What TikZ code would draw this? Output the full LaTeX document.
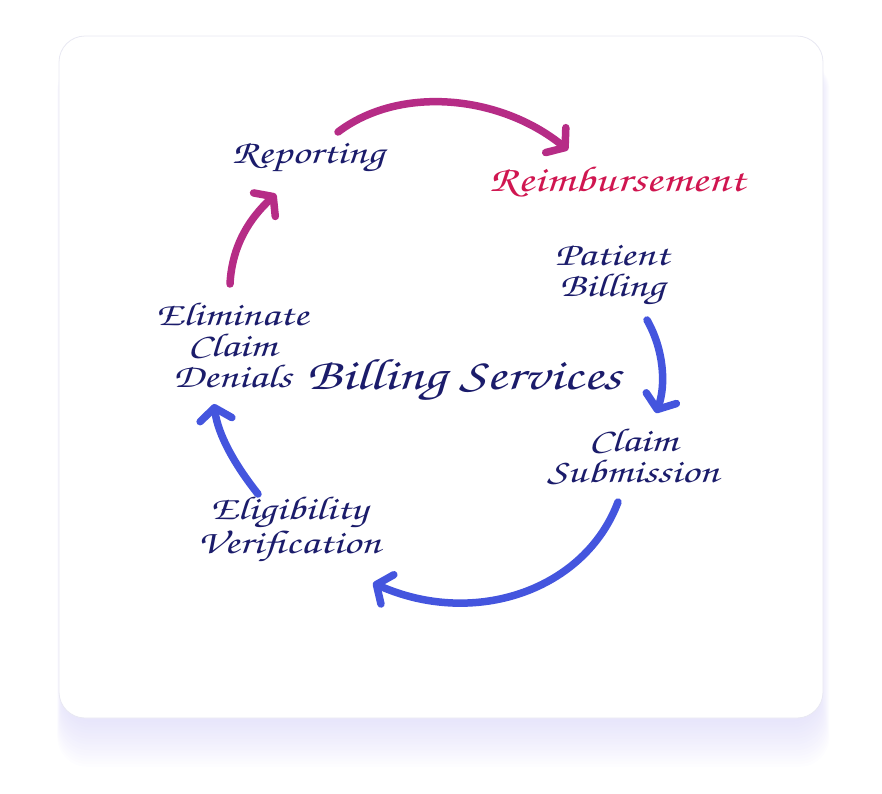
\documentclass[tikz,border=0pt]{standalone}
\usepackage[T1]{fontenc}
\usepackage{graphicx}
\usetikzlibrary{arrows.meta}

\definecolor{inknavy}{RGB}{27,28,107}
\definecolor{inkcrimson}{RGB}{208,22,80}
\definecolor{arcmagenta}{RGB}{182,44,134}
\definecolor{arcblue}{RGB}{68,85,222}
\definecolor{cardedge}{RGB}{232,232,242}
\definecolor{shadowlav}{RGB}{200,195,245}

% wide handwritten look
\newcommand\handline[1]{\scalebox{1.32}[1]{#1}}

\begin{document}
\begin{tikzpicture}[
		x=1pt,
		y=-1pt,
		line cap=round,
		line join=round,
		stagetext/.style={
			text=inknavy,
			align=center,
			inner sep=0pt,
			font=\fontfamily{pzc}\fontsize{33}{31}\selectfont
		},
		titletext/.style={
			stagetext,
			font=\fontfamily{pzc}\fontsize{44}{44}\selectfont
		},
		flowarc/.style={
			line width=7.5pt,
			-{Straight Barb[length=12pt,width=32pt,round]}
		}
		]
		
		\useasboundingbox (0,0) rectangle (882,793);
		
		%------------------------------------------------------------------
		% Card with soft lavender shadow
		%------------------------------------------------------------------
		\foreach \s in {0,...,16}{
			\fill[shadowlav, opacity=0.032, rounded corners=30pt]
			(62-\s*0.3,60) rectangle (820+\s*0.6,722+\s*2.8);
		}
		\draw[cardedge, fill=white, line width=0.8pt, rounded corners=26pt]
		(59,36) rectangle (823,718);
		
		%------------------------------------------------------------------
		% Labels
		%------------------------------------------------------------------
		\node[stagetext] (reporting) at (308,158) {\handline{Reporting}};
		\node[stagetext, text=inkcrimson, font=\fontfamily{pzc}\fontsize{36}{30}\selectfont]
		(reimb) at (617,182) {\handline{Reimbursement}};
		\node[stagetext] (patient) at (612,276) {\handline{Patient}\\\handline{Billing}};
		\node[stagetext] (claim) at (633,456) {\handline{Claim}\\\handline{Submission}};
		\node[stagetext] (elig) at (289,530) {\handline{Eligibility}\\\handline{Verification}};
		\node[stagetext] (elim) at (232,345) {\handline{Eliminate}\\\handline{Claim}\\\handline{Denials}};
		\node[titletext] (billing) at (464,381) {\handline{Billing Services}};
		
		%------------------------------------------------------------------
		% Arrow ends
		%------------------------------------------------------------------
		\coordinate (elimOut)   at (230,284);
		\coordinate (repIn)     at (276,194);
		\coordinate (repOut)    at (338,132);
		\coordinate (reimbIn)   at (568,150);
		\coordinate (patOut)    at (647,320);
		\coordinate (claimIn)   at (656,413);
		\coordinate (claimOut)  at (618,502);
		\coordinate (eligIn)    at (373,583);
		\coordinate (eligOut)   at (258,494);
		\coordinate (elimIn)    at (214,404);
		
		%------------------------------------------------------------------
		% Magenta arcs
		%------------------------------------------------------------------
		\draw[flowarc, arcmagenta]
		(elimOut) .. controls (232,245) and (250,218) .. (repIn);
		\draw[flowarc, arcmagenta]
		(repOut) .. controls (400,85) and (500,95) .. (reimbIn);
		
		%------------------------------------------------------------------
		% Blue arcs
		%------------------------------------------------------------------
		\draw[flowarc, arcblue]
		(patOut) .. controls (664,350) and (666,385) .. (claimIn);
		\draw[flowarc, arcblue]
		(claimOut) .. controls (585,590) and (475,628) .. (eligIn);
		\draw[flowarc, arcblue]
		(eligOut) .. controls (235,465) and (218,435) .. (elimIn);
		
	\end{tikzpicture}
\end{document}
